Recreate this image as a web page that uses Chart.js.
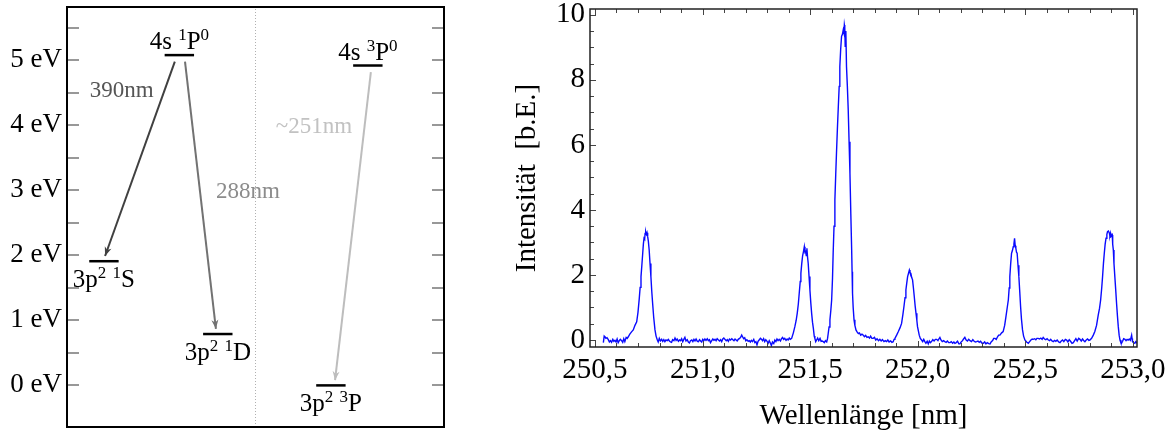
<!DOCTYPE html>
<html><head><meta charset="utf-8">
<script src="https://cdn.jsdelivr.net/npm/chart.js@4.4.1/dist/chart.umd.min.js"></script>
<style>
html,body{margin:0;padding:0;background:#fff;}
#wrap{position:relative;width:1171px;height:434px;overflow:hidden;background:#fff;}
#c1{position:absolute;left:0;top:0;}
#c2{position:absolute;left:460px;top:0;}
</style></head><body>
<div id="wrap"><canvas id="c1" width="460" height="434"></canvas><canvas id="c2" width="711" height="434"></canvas></div>
<script>
// ================= DATA =================
// Left panel: energy levels (eV) and transitions
const energyTicks = [0, 1, 2, 3, 4, 5];
const levelNames = ['4s ^1P^0', '3p^2 ^1S', '3p^2 ^1D', '4s ^3P^0', '3p^2 ^3P'];
const levelEnergies = [5.08, 1.91, 0.79, 4.92, 0.00];
const transitionLabels = ['390nm', '288nm', '~251nm'];
const transitionFrom = [0, 0, 3];
const transitionTo = [1, 2, 4];

// Right panel: spectrum
const wavelengthTicks = [250.5, 251.0, 251.5, 252.0, 252.5, 253.0];
const intensityTicks = [0, 2, 4, 6, 8, 10];
const wavelength = [
 250.539,250.543,250.546,250.551,250.556,250.562,250.567,250.572,250.577,250.583,
 250.588,250.593,250.598,250.603,250.608,250.613,250.618,250.624,250.629,250.634,
 250.639,250.645,250.650,250.655,250.662,250.670,250.678,250.686,250.694,250.700,
 250.706,250.710,250.714,250.718,250.722,250.725,250.728,250.731,250.733,250.736,
 250.739,250.742,250.745,250.748,250.752,250.756,250.760,250.764,250.768,250.773,
 250.779,250.784,250.790,250.794,250.799,250.804,250.810,250.815,250.820,250.825,
 250.830,250.836,250.841,250.846,250.851,250.856,250.861,250.867,250.872,250.877,
 250.882,250.888,250.893,250.898,250.903,250.908,250.913,250.918,250.923,250.929,
 250.934,250.939,250.944,250.950,250.955,250.960,250.965,250.970,250.976,250.981,
 250.986,250.991,250.996,251.001,251.006,251.011,251.016,251.022,251.027,251.032,
 251.037,251.042,251.048,251.053,251.058,251.063,251.068,251.074,251.079,251.084,
 251.089,251.094,251.099,251.104,251.110,251.115,251.120,251.125,251.130,251.136,
 251.141,251.146,251.151,251.156,251.161,251.166,251.172,251.177,251.182,251.186,
 251.191,251.196,251.201,251.206,251.212,251.217,251.222,251.227,251.232,251.238,
 251.243,251.248,251.253,251.258,251.263,251.269,251.274,251.279,251.284,251.289,
 251.294,251.300,251.305,251.310,251.315,251.320,251.325,251.331,251.336,251.341,
 251.346,251.351,251.356,251.362,251.367,251.372,251.377,251.382,251.388,251.393,
 251.398,251.403,251.408,251.414,251.422,251.429,251.435,251.440,251.445,251.450,
 251.454,251.457,251.461,251.465,251.469,251.473,251.476,251.479,251.482,251.485,
 251.488,251.491,251.495,251.499,251.503,251.507,251.511,251.515,251.519,251.522,
 251.526,251.530,251.535,251.540,251.546,251.551,251.556,251.561,251.566,251.571,
 251.577,251.581,251.584,251.588,251.592,251.596,251.600,251.604,251.607,251.611,
 251.615,251.619,251.623,251.627,251.631,251.635,251.638,251.642,251.646,251.650,
 251.654,251.657,251.659,251.661,251.663,251.666,251.669,251.673,251.677,251.681,
 251.685,251.689,251.693,251.695,251.697,251.700,251.704,251.708,251.713,251.718,
 251.724,251.729,251.735,251.741,251.747,251.752,251.758,251.764,251.770,251.776,
 251.781,251.787,251.793,251.799,251.805,251.811,251.818,251.824,251.830,251.836,
 251.843,251.849,251.855,251.861,251.867,251.874,251.880,251.886,251.890,251.894,
 251.902,251.910,251.918,251.925,251.931,251.936,251.941,251.945,251.949,251.953,
 251.957,251.961,251.964,251.968,251.972,251.976,251.980,251.984,251.988,251.992,
 251.996,251.999,252.003,252.007,252.012,252.018,252.023,252.028,252.033,252.038,
 252.044,252.049,252.054,252.059,252.064,252.070,252.076,252.082,252.088,252.094,
 252.098,252.103,252.108,252.114,252.120,252.126,252.132,252.138,252.144,252.150,
 252.156,252.162,252.168,252.173,252.179,252.185,252.191,252.196,252.202,252.208,
 252.213,252.219,252.225,252.231,252.237,252.243,252.250,252.256,252.262,252.268,
 252.274,252.280,252.286,252.292,252.299,252.305,252.311,252.317,252.323,252.330,
 252.336,252.342,252.348,252.353,252.359,252.365,252.371,252.376,252.382,252.390,
 252.397,252.404,252.410,252.416,252.421,252.425,252.428,252.432,252.436,252.440,
 252.444,252.447,252.450,252.453,252.456,252.459,252.462,252.466,252.470,252.474,
 252.478,252.482,252.487,252.492,252.498,252.506,252.514,252.520,252.526,252.532,
 252.537,252.543,252.549,252.554,252.560,252.566,252.572,252.578,252.583,252.589,
 252.595,252.601,252.607,252.613,252.618,252.624,252.630,252.636,252.642,252.648,
 252.655,252.661,252.667,252.673,252.679,252.686,252.692,252.698,252.704,252.710,
 252.717,252.723,252.729,252.735,252.741,252.748,252.754,252.760,252.766,252.772,
 252.777,252.783,252.789,252.795,252.800,252.808,252.816,252.823,252.831,252.839,
 252.845,252.850,252.855,252.859,252.863,252.867,252.871,252.875,252.879,252.882,
 252.886,252.890,252.893,252.896,252.898,252.901,252.904,252.906,252.909,252.912,
 252.916,252.920,252.924,252.928,252.932,252.936,252.940,252.944,252.947,252.952,
 252.957,252.963,252.968,252.973,252.978,252.983,252.988,252.994,252.996,252.998,
 253.003,253.009,253.013,253.017,253.020
];
const intensity = [
 -0.08,0.12,0.10,0.05,0.07,0.01,-0.06,-0.02,-0.07,0.02,
 -0.04,-0.01,-0.06,0.03,-0.08,-0.02,0.02,-0.02,-0.07,0.04,
 -0.05,0.08,0.05,0.10,0.18,0.25,0.31,0.45,0.56,0.85,
 1.28,1.62,1.95,2.30,2.67,2.95,3.13,3.10,3.28,3.33,
 3.25,3.30,3.18,3.05,2.77,2.35,1.95,1.50,1.13,0.70,
 0.31,0.12,0.00,-0.06,0.05,-0.03,0.02,-0.04,0.01,-0.05,
 0.00,-0.02,0.02,-0.03,-0.06,-0.07,0.01,-0.02,0.06,-0.01,
 0.03,-0.04,0.00,-0.02,0.04,-0.05,0.02,0.08,-0.03,0.01,
 -0.06,-0.09,-0.02,0.00,-0.05,0.02,-0.03,0.03,-0.04,-0.05,
 0.01,-0.03,-0.06,0.02,-0.02,0.03,-0.01,0.04,-0.02,0.01,
 -0.08,-0.03,0.03,-0.01,0.02,-0.02,0.04,0.00,-0.03,0.01,
 -0.05,0.03,0.06,0.02,-0.02,0.01,-0.04,0.03,0.00,0.04,
 0.01,-0.02,0.03,0.00,-0.03,0.02,0.05,0.08,0.15,0.10,
 0.04,0.07,-0.02,0.01,-0.04,-0.02,-0.06,-0.01,-0.05,0.02,
 -0.08,-0.05,-0.15,-0.04,0.00,0.05,0.02,-0.02,0.04,-0.05,
 0.01,-0.04,-0.10,-0.02,-0.09,-0.17,-0.06,-0.11,0.00,-0.05,
 0.03,-0.02,0.02,-0.03,0.04,0.08,0.02,0.05,-0.01,0.03,
 0.00,0.06,0.02,0.05,0.22,0.41,0.60,0.82,1.10,1.49,
 1.80,2.05,2.35,2.59,2.72,2.87,2.70,2.72,2.60,2.82,
 2.55,2.36,1.95,1.54,1.15,0.82,0.55,0.36,0.12,0.05,
 -0.05,0.00,0.06,-0.02,0.05,-0.04,-0.03,-0.05,-0.08,-0.02,
 -0.06,0.05,0.20,0.40,0.62,0.90,1.23,1.90,2.67,3.50,
 4.31,5.10,5.85,6.55,7.18,7.80,8.41,8.95,9.34,9.40,
 9.54,9.45,9.69,9.60,9.03,9.50,8.41,7.80,7.08,6.10,
 5.13,3.90,2.77,2.10,1.44,1.00,0.62,0.45,0.31,0.25,
 0.20,0.22,0.15,0.18,0.15,0.10,0.14,0.08,0.10,0.06,
 0.12,0.05,0.05,0.08,0.00,0.04,-0.02,0.02,-0.03,0.01,
 -0.05,-0.02,-0.05,0.00,-0.06,-0.03,-0.07,-0.05,0.02,0.05,
 0.15,0.26,0.38,0.51,0.78,1.03,1.30,1.54,1.75,1.95,
 2.05,2.15,2.08,2.05,1.92,1.85,1.60,1.33,1.05,0.82,
 0.60,0.41,0.28,0.15,0.05,0.00,-0.05,0.02,-0.05,-0.10,
 -0.04,-0.12,-0.03,-0.08,-0.05,0.01,-0.03,0.02,0.02,-0.02,
 0.03,0.08,0.00,-0.05,-0.02,-0.05,-0.07,-0.03,-0.08,-0.08,
 -0.05,-0.10,-0.06,-0.10,-0.08,-0.04,-0.12,-0.12,-0.06,-0.02,
 0.03,0.08,0.00,-0.03,0.02,-0.02,-0.05,0.01,-0.04,-0.06,
 -0.05,-0.03,-0.07,-0.04,-0.10,-0.10,-0.06,-0.12,-0.08,-0.11,
 -0.12,-0.05,-0.02,0.05,0.05,0.02,0.10,0.15,0.15,0.22,
 0.26,0.45,0.72,1.00,1.23,1.60,1.95,2.35,2.67,2.75,
 2.87,2.95,3.13,2.90,2.82,2.70,2.67,2.30,1.95,1.50,
 1.03,0.65,0.31,0.12,0.00,-0.06,-0.10,-0.05,0.00,0.03,
 0.02,0.04,0.01,0.05,0.05,0.03,0.06,0.02,0.08,0.03,
 0.01,0.04,0.00,-0.02,0.02,-0.03,-0.05,-0.01,-0.04,0.00,
 -0.06,-0.08,-0.03,0.00,-0.05,0.02,0.00,-0.06,0.01,-0.04,
 -0.10,-0.08,-0.02,0.04,-0.03,0.05,0.02,-0.03,0.03,-0.02,
 -0.05,0.00,0.03,-0.01,0.00,0.05,0.15,0.26,0.45,0.77,
 0.98,1.23,1.60,1.95,2.35,2.67,2.95,3.13,3.25,3.33,
 3.35,3.30,3.20,3.28,3.18,3.20,3.23,2.95,2.77,2.35,
 1.95,1.55,1.13,0.75,0.41,0.15,0.00,-0.08,-0.10,-0.04,
 0.04,0.02,-0.02,0.02,0.00,0.03,-0.01,0.15,0.05,-0.05,
 -0.08,-0.10,-0.05,-0.08,-0.06
];

// ================= LAYOUT / STYLE =================
const SERIF = '"Liberation Serif", "Times New Roman", Times, serif';
const diagram = {
  levelX: [2.98, 0.98, 4.0, 7.98, 7.0],       // horizontal column of each level (diagram units 0..10)
  levelHalfWidth: 0.39,
  labelAbove: [true, false, false, true, false],
  arrowStartX: [2.86, 3.13, 8.06],
  arrowEndX: [1.01, 3.95, 7.11],
  arrowGapTop: 0.1, arrowGapBottom: 0.08,
  arrowColors: ['#404040', '#727272', '#bdbdbd'],
  labelColors: ['#555555', '#8c8c8c', '#c2c2c2'],
  labelPos: [[1.45, 4.53], [4.80, 2.98], [6.55, 3.98]],
  separatorX: 5.0
};

function drawRich(ctx, str, cx, baseY, size, color) {
  const segs = []; let i = 0;
  while (i < str.length) {
    if (str[i] === '^') { segs.push({t: str[i + 1], sup: true}); i += 2; }
    else { let j = i; while (j < str.length && str[j] !== '^') j++; segs.push({t: str.slice(i, j), sup: false}); i = j; }
  }
  const fN = size + 'px ' + SERIF, fS = Math.round(size * 0.66) + 'px ' + SERIF;
  let w = 0;
  segs.forEach(s => { ctx.font = s.sup ? fS : fN; s.w = ctx.measureText(s.t).width; w += s.w; });
  let x = cx - w / 2;
  ctx.fillStyle = color; ctx.textAlign = 'left'; ctx.textBaseline = 'alphabetic';
  segs.forEach(s => { ctx.font = s.sup ? fS : fN; ctx.fillText(s.t, x, s.sup ? baseY - size * 0.36 : baseY); x += s.w; });
}
function arrowHead(ctx, x0, y0, x1, y1, color) {
  const ang = Math.atan2(y1 - y0, x1 - x0), L = 9, W = 3.5;
  ctx.save(); ctx.fillStyle = color; ctx.translate(x1, y1); ctx.rotate(ang);
  ctx.beginPath(); ctx.moveTo(0, 0); ctx.lineTo(-L, -W); ctx.lineTo(-L * 0.7, 0); ctx.lineTo(-L, W); ctx.closePath(); ctx.fill();
  ctx.restore();
}
function noOverflow(s) { s.paddingTop = 0; s.paddingBottom = 0; s.paddingLeft = 0; s.paddingRight = 0; }

// ================= LEFT CHART =================
const leftDatasets = [];
leftDatasets.push({
  data: [{x: diagram.separatorX, y: -0.64}, {x: diagram.separatorX, y: 5.82}],
  showLine: true, pointRadius: 0, borderColor: '#b0b0b0', borderWidth: 1, borderDash: [1, 2], order: 10
});
levelEnergies.forEach((E, i) => {
  leftDatasets.push({
    data: [{x: diagram.levelX[i] - diagram.levelHalfWidth, y: E}, {x: diagram.levelX[i] + diagram.levelHalfWidth, y: E}],
    showLine: true, pointRadius: 0, borderColor: '#000', borderWidth: 2.5, order: 1
  });
});
transitionLabels.forEach((lab, k) => {
  leftDatasets.push({
    arrow: true,
    data: [{x: diagram.arrowStartX[k], y: levelEnergies[transitionFrom[k]] - diagram.arrowGapTop},
           {x: diagram.arrowEndX[k], y: levelEnergies[transitionTo[k]] + diagram.arrowGapBottom}],
    showLine: true, pointRadius: 0, borderColor: diagram.arrowColors[k], borderWidth: 2, order: 2
  });
});

const levelPlugin = {
  id: 'levelDecor',
  afterDatasetsDraw(chart) {
    const {ctx, chartArea: a, scales: {x, y}} = chart;
    ctx.save();
    chart.data.datasets.forEach((ds, i) => {
      if (!ds.arrow) return;
      const p = chart.getDatasetMeta(i).data;
      arrowHead(ctx, p[0].x, p[0].y, p[1].x, p[1].y, ds.borderColor);
    });
    levelNames.forEach((n, i) => {
      const px = x.getPixelForValue(diagram.levelX[i]), py = y.getPixelForValue(levelEnergies[i]);
      drawRich(ctx, n, px, diagram.labelAbove[i] ? py - 6 : py + 26, 25, '#000');
    });
    ctx.font = '23px ' + SERIF; ctx.textAlign = 'center'; ctx.textBaseline = 'middle';
    transitionLabels.forEach((t, k) => {
      ctx.fillStyle = diagram.labelColors[k];
      ctx.fillText(t, x.getPixelForValue(diagram.labelPos[k][0]), y.getPixelForValue(diagram.labelPos[k][1]));
    });
    // inward tick marks on both sides
    ctx.strokeStyle = '#777'; ctx.lineWidth = 1.5;
    for (let k = 0; k <= 11; k++) {
      const py = Math.round(y.getPixelForValue(k * 0.5));
      ctx.beginPath(); ctx.moveTo(a.left, py); ctx.lineTo(a.left + 12, py);
      ctx.moveTo(a.right, py); ctx.lineTo(a.right - 12, py); ctx.stroke();
    }
    ctx.strokeStyle = '#000'; ctx.lineWidth = 2;
    ctx.strokeRect(a.left, a.top, a.right - a.left, a.bottom - a.top);
    ctx.restore();
  }
};

new Chart(document.getElementById('c1'), {
  type: 'scatter',
  data: {datasets: leftDatasets},
  options: {
    responsive: false, animation: false, events: [],
    layout: {padding: {top: 7, bottom: 7, left: 0, right: 16}},
    plugins: {legend: {display: false}, tooltip: {enabled: false}},
    scales: {
      x: {type: 'linear', display: false, min: 0, max: 10},
      y: {type: 'linear', min: -0.64, max: 5.82,
          grid: {display: false, drawTicks: false}, border: {display: false},
          afterFit(s) { s.width = 67; noOverflow(s); },
          afterBuildTicks(s) { s.ticks = energyTicks.map(v => ({value: v})); },
          ticks: {padding: 5, color: '#000', font: {family: SERIF, size: 27}, callback: v => v + ' eV'}}
    }
  },
  plugins: [levelPlugin]
});

// ================= RIGHT CHART =================
const frameTicks = {
  id: 'frameTicks',
  afterDraw(chart) {
    const {ctx, chartArea: a, scales: {x, y}} = chart;
    ctx.save();
    ctx.strokeStyle = '#444'; ctx.lineWidth = 1;
    ctx.beginPath();
    for (let k = 0; k <= 25; k++) {
      const px = Math.round(x.getPixelForValue(250.5 + k * 0.1)) + 0.5;
      const L = (k % 5 === 0) ? 6 : 4;
      ctx.moveTo(px, a.bottom); ctx.lineTo(px, a.bottom - L);
      ctx.moveTo(px, a.top); ctx.lineTo(px, a.top + L);
    }
    for (let k = 0; k <= 20; k++) {
      const py = Math.round(y.getPixelForValue(k * 0.5)) + 0.5;
      const L = (k % 4 === 0) ? 6 : 4;
      ctx.moveTo(a.left, py); ctx.lineTo(a.left + L, py);
    }
    ctx.stroke();
    ctx.strokeStyle = '#222'; ctx.lineWidth = 1.5;
    ctx.strokeRect(a.left, a.top, a.right - a.left, a.bottom - a.top);
    ctx.restore();
  }
};

new Chart(document.getElementById('c2'), {
  type: 'scatter',
  data: {datasets: [{
    data: wavelength.map((w, i) => ({x: w, y: intensity[i]})),
    showLine: true, pointRadius: 0, borderColor: '#0a0aff', borderWidth: 1.4, tension: 0
  }]},
  options: {
    responsive: false, animation: false, events: [],
    layout: {padding: {top: 9, bottom: 0, left: 0, right: 34}},
    plugins: {legend: {display: false}, tooltip: {enabled: false}},
    scales: {
      x: {type: 'linear', min: 250.477, max: 253.019,
          grid: {display: false, drawTicks: false}, border: {display: false},
          afterFit(s) { s.height = 87; noOverflow(s); },
          afterBuildTicks(s) { s.ticks = wavelengthTicks.map(v => ({value: v})); },
          ticks: {padding: 6, maxRotation: 0, autoSkip: false, color: '#000', font: {family: SERIF, size: 29},
                  callback: v => Number(v).toFixed(1).replace('.', ',')},
          title: {display: true, text: 'Wellenlänge [nm]', color: '#000', font: {family: SERIF, size: 29}, padding: {top: 0, bottom: 0}}},
      y: {type: 'linear', min: -0.215, max: 10.18,
          grid: {display: false, drawTicks: false}, border: {display: false},
          afterFit(s) { s.width = 130; noOverflow(s); },
          afterBuildTicks(s) { s.ticks = intensityTicks.map(v => ({value: v})); },
          ticks: {padding: 5, color: '#000', font: {family: SERIF, size: 29}},
          title: {display: true, text: 'Intensität  [b.E.]', color: '#000', font: {family: SERIF, size: 29}, padding: {top: 50, bottom: 0}}}
    }
  },
  plugins: [frameTicks]
});
</script>
</body></html>
